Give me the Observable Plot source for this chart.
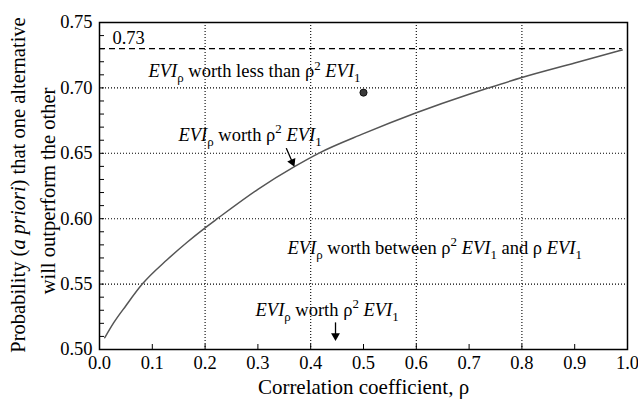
<!DOCTYPE html>
<html>
<head>
<meta charset="utf-8">
<script src="https://cdn.jsdelivr.net/npm/d3@7"></script>
<script src="https://cdn.jsdelivr.net/npm/@observablehq/plot@0.6"></script>
<style>
  html, body { margin: 0; padding: 0; background: white; }
</style>
</head>
<body>
<div id="chart"></div>
<script>
// ---- data ----
const rho  = [0.01, 0.027, 0.05, 0.081, 0.128, 0.166, 0.2, 0.223, 0.3, 0.37, 0.415, 0.5, 0.6, 0.7, 0.737, 0.8, 0.9, 0.99];
const prob = [0.509, 0.5205, 0.5335, 0.550, 0.5686, 0.582, 0.593, 0.600, 0.6225, 0.640, 0.650, 0.665, 0.681, 0.6952, 0.700, 0.7079, 0.719, 0.729];

const limitValue = 0.73;
const limitLabel = "0.73";
const pointX = [0.5];
const pointY = [0.6964];

const xTicks = [0, 0.1, 0.2, 0.3, 0.4, 0.5, 0.6, 0.7, 0.8, 0.9, 1.0];
const yTicks = [0.50, 0.55, 0.60, 0.65, 0.70, 0.75];
const yMinorTicks = [0.50,0.51,0.52,0.53,0.54,0.55,0.56,0.57,0.58,0.59,0.60,0.61,0.62,0.63,0.64,0.65,0.66,0.67,0.68,0.69,0.70,0.71,0.72,0.73,0.74,0.75];
const xGrid = [0.2, 0.4, 0.6, 0.8];
const yGrid = [0.55, 0.60, 0.65, 0.70];

const annoText = [
  "*EVI*_ρ worth less than ρ^2 *EVI*_1",
  "*EVI*_ρ worth ρ^2 *EVI*_1",
  "*EVI*_ρ worth between ρ^2 *EVI*_1 and ρ *EVI*_1",
  "*EVI*_ρ worth ρ^2 *EVI*_1"
];
const annoX = [0.0928, 0.1496, 0.356, 0.2955];
const annoY = [0.7126, 0.6641, 0.5778, 0.5304];

const arrowX1 = [0.354, 0.447];
const arrowY1 = [0.6536, 0.5204];
const arrowX2 = [0.369, 0.447];
const arrowY2 = [0.6398, 0.5066];

const xLabel = "Correlation coefficient, ρ";
const yLabel1 = "Probability (*a priori*) that one alternative";
const yLabel2 = "will outperform the other";

const curve = rho.map((r, i) => ({r, p: prob[i]}));
const annos = annoText.map((t, i) => ({t, x: annoX[i], y: annoY[i]}));
const arrows = arrowX1.map((x1, i) => ({x1, y1: arrowY1[i], x2: arrowX2[i], y2: arrowY2[i]}));

const FS = 18.5;
const LFS = 21;
const YFS = 20.5;
const font = "'Liberation Serif', 'Times New Roman', serif";

const svg = Plot.plot({
  width: 638,
  height: 400,
  marginLeft: 99,
  marginRight: 11,
  marginTop: 22,
  marginBottom: 51,
  style: {fontFamily: font, fontSize: FS + "px", background: "white", color: "black"},
  x: {domain: [0, 1]},
  y: {domain: [0.5, 0.75]},
  marks: [
    Plot.ruleX(xGrid, {stroke: "black", strokeWidth: 1.1, strokeDasharray: "1,2"}),
    Plot.ruleY(yGrid, {stroke: "black", strokeWidth: 1.1, strokeDasharray: "1,2"}),
    Plot.ruleY([limitValue], {x1: 0, x2: 0.99, stroke: "black", strokeWidth: 1.3, strokeDasharray: "6,4"}),
    Plot.text([limitLabel], {x: 0.0246, y: 0.7384, text: d => d, textAnchor: "start", lineAnchor: "middle", fontSize: FS}),
    Plot.line(curve, {x: "r", y: "p", stroke: "#555", strokeWidth: 1.5, curve: "monotone-x"}),
    Plot.dot(pointX.map((x, i) => ({x, y: pointY[i]})), {x: "x", y: "y", r: 3.6, fill: "#3a3a3a", stroke: "black", strokeWidth: 0.8}),
    Plot.arrow(arrows, {x1: "x1", y1: "y1", x2: "x2", y2: "y2", headLength: 0, insetEnd: 4, stroke: "black", strokeWidth: 1.3}),
    Plot.dot([arrows[0]], {x: "x2", y: "y2", symbol: "triangle", r: 3.3, rotate: 156, dx: -2.0, dy: -4.6, fill: "black", stroke: "none"}),
    Plot.dot([arrows[1]], {x: "x2", y: "y2", symbol: "triangle", r: 3.3, rotate: 180, dx: 0, dy: -5, fill: "black", stroke: "none"}),
    Plot.text(annos, {x: "x", y: "y", text: "t", textAnchor: "start", lineAnchor: "middle", fontSize: FS}),
    Plot.frame({stroke: "black", strokeWidth: 1.5}),
    Plot.axisX({ticks: xTicks, tickSize: -5, tickPadding: 11, tickFormat: d => d.toFixed(1), label: null, fontSize: FS}),
    Plot.axisY({ticks: yMinorTicks, tickSize: -5, tickPadding: 0, tickFormat: () => "", label: null}),
    Plot.axisY({ticks: yTicks, tickSize: 0, tickPadding: 7, tickFormat: d => d.toFixed(2), label: null, fontSize: FS}),
    Plot.text([xLabel], {frameAnchor: "bottom", text: d => d, textAnchor: "middle", lineAnchor: "middle", dy: 37.3, fontSize: LFS}),
    Plot.text([yLabel1], {frameAnchor: "left", text: d => d, textAnchor: "middle", lineAnchor: "middle", rotate: -90, dx: -81.5, dy: -1, fontSize: YFS}),
    Plot.text([yLabel2], {frameAnchor: "left", text: d => d, textAnchor: "middle", lineAnchor: "middle", rotate: -90, dx: -51, dy: 5, fontSize: YFS})
  ]
});

// Rich text: *italic*, _x subscript, ^x superscript
const NS = "http://www.w3.org/2000/svg";
function richify(el) {
  const s = el.textContent;
  if (!/[*_^]/.test(s)) return;
  let fs = FS;
  let p = el;
  while (p && p !== svg) {
    const a = p.getAttribute && p.getAttribute("font-size");
    if (a) { fs = parseFloat(a); break; }
    p = p.parentNode;
  }
  el.textContent = "";
  let italic = false, pending = 0, i = 0;
  while (i < s.length) {
    const c = s[i];
    if (c === "*") { italic = !italic; i++; continue; }
    if (c === "_" || c === "^") {
      const ch = s[i + 1];
      i += 2;
      const d = c === "_" ? fs * 0.27 : -fs * 0.4;
      const t = document.createElementNS(NS, "tspan");
      t.setAttribute("font-size", (fs * 0.7).toFixed(1));
      t.setAttribute("dy", (pending + d).toFixed(2));
      t.setAttribute("font-style", "normal");
      t.textContent = ch;
      el.appendChild(t);
      pending = -d;
      continue;
    }
    let j = i;
    while (j < s.length && !"*_^".includes(s[j])) j++;
    const t = document.createElementNS(NS, "tspan");
    if (italic) t.setAttribute("font-style", "italic");
    if (pending) t.setAttribute("dy", pending.toFixed(2));
    pending = 0;
    t.textContent = s.slice(i, j);
    el.appendChild(t);
    i = j;
  }
}
svg.querySelectorAll("text").forEach(richify);

document.getElementById("chart").appendChild(svg);
</script>
</body>
</html>
